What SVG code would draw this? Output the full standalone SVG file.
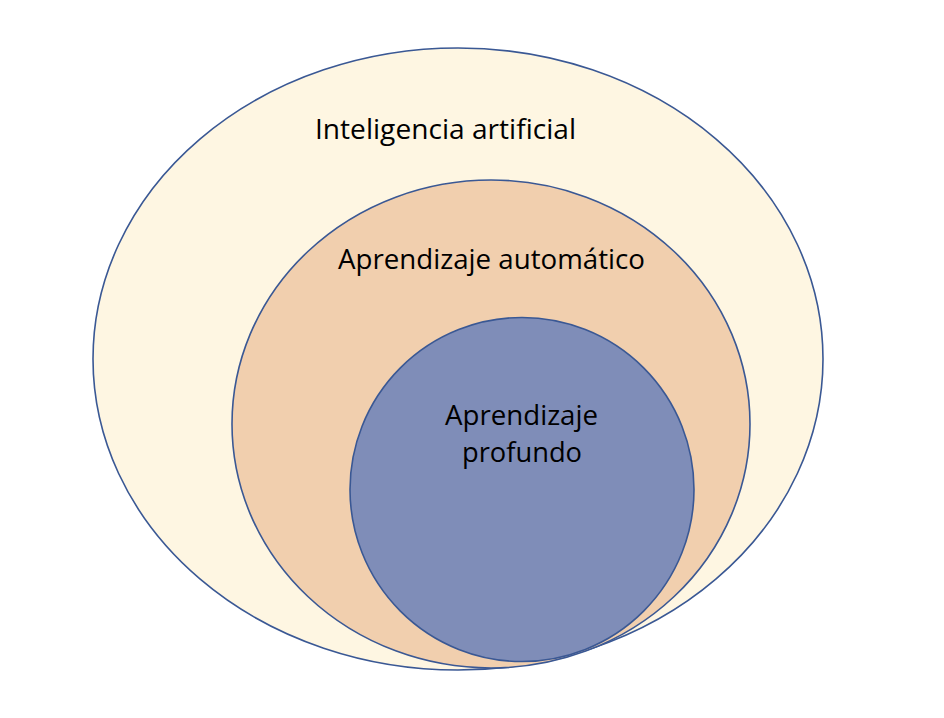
<svg xmlns="http://www.w3.org/2000/svg" width="944" height="718" viewBox="0 0 944 718">
<style>
.e{stroke:#3A5894;stroke-width:1.6}
.t{font-family:"Open Sans","Noto Sans",sans-serif;font-size:27px;fill:#000;text-anchor:middle}
</style>
<rect width="944" height="718" fill="#fff"/>
<g id="ia">
<ellipse class="e" cx="458" cy="359" rx="365" ry="311" fill="#FEF6E2"/>
<text class="t" x="445.5" y="139" textLength="261" lengthAdjust="spacingAndGlyphs">Inteligencia artificial</text>
</g>
<g id="aa">
<ellipse class="e" cx="491" cy="424" rx="259" ry="244" fill="#F1CFAE"/>
<text class="t" x="491.5" y="269" textLength="307" lengthAdjust="spacingAndGlyphs">Aprendizaje automático</text>
</g>
<g id="ap">
<ellipse class="e" cx="522" cy="489.5" rx="172" ry="172" fill="#7F8DB8"/>
<text class="t" x="521.5" y="425" textLength="153" lengthAdjust="spacingAndGlyphs">Aprendizaje</text>
<text class="t" x="522" y="462" textLength="120" lengthAdjust="spacingAndGlyphs">profundo</text>
</g>
<g id="connectors"/>
</svg>
